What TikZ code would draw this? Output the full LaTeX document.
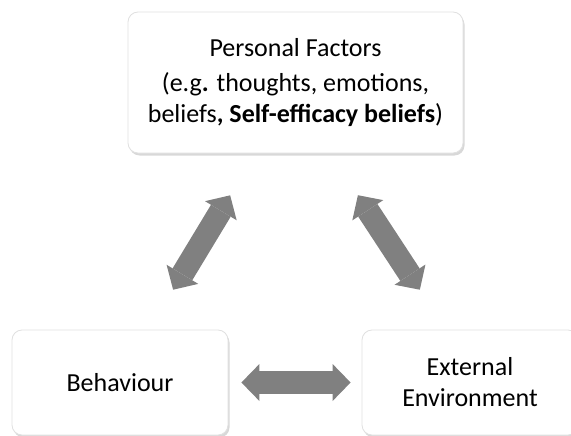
\documentclass[tikz,border=0pt]{standalone}
\usepackage{fontspec}
\setmainfont{Carlito}
\usetikzlibrary{arrows.meta,shadows}

\tikzset{
  factor/.style={draw=black!12, line width=0.8pt, fill=white, rounded corners=10pt,
    align=center, inner sep=0pt, font=\fontsize{26}{31}\selectfont,
    drop shadow={shadow xshift=1.5pt, shadow yshift=-2.5pt, opacity=0.22, fill=black!70}},
  link/.style={draw=black!50, line width=23pt,
    {Triangle[width=37pt,length=18pt,line width=0pt]}-{Triangle[width=37pt,length=18pt,line width=0pt]}}
}

\begin{document}
\begin{tikzpicture}[x=1pt, y=-1pt]
  \useasboundingbox (0,0) rectangle (571,436);

  % the three factors
  \node[factor, minimum width=335pt, minimum height=141pt] (pf) at (295.5,82.5)
    {Personal Factors\\[3.5pt]
     (e.g\textbf{.} thoughts, emotions,\\
     beliefs\textbf{, Self-efficacy beliefs})};
  \node[factor, minimum width=216pt, minimum height=105pt] (beh) at (120,382.5) {Behaviour};
  \node[factor, minimum width=216pt, minimum height=105pt] (ext) at (470,382.5) {External\\Environment};

  % reciprocal links
  \draw[link, shorten <=46.6pt, shorten >=49pt] ([xshift=29pt]beh.north) -- ([xshift=-40pt]pf.south);
  \draw[link, shorten <=50pt, shorten >=47.7pt] ([xshift=35pt]pf.south) -- ([xshift=-24pt]ext.north);
  \draw[link, shorten <=13pt, shorten >=11pt] (beh.east) -- (ext.west);
\end{tikzpicture}
\end{document}
